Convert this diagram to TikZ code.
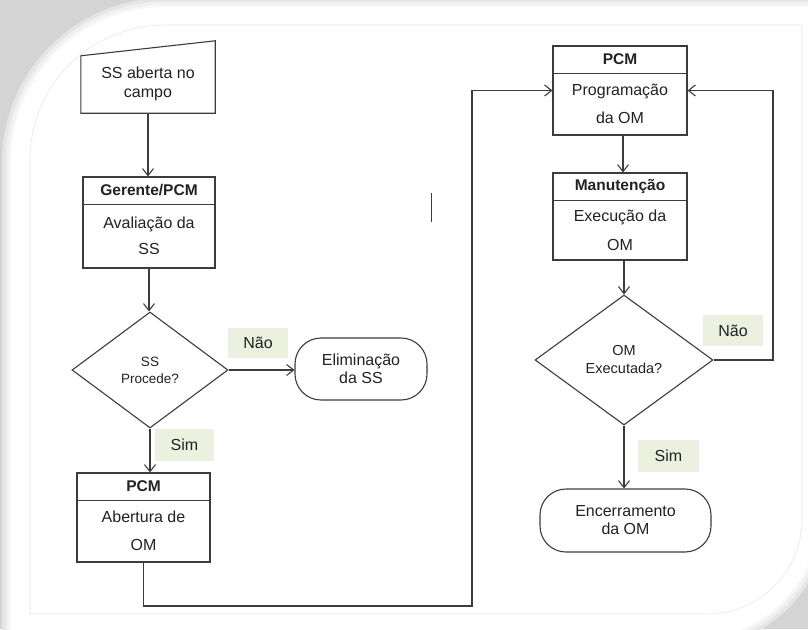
\documentclass[tikz,border=0pt]{standalone}
\usepackage{fontspec}
\setmainfont{Liberation Sans}
\usetikzlibrary{shapes.geometric,arrows.meta}

\definecolor{linec}{HTML}{3C3C3C}
\definecolor{textc}{HTML}{222222}
\definecolor{lblc}{HTML}{EBF0DF}
\definecolor{bgc}{HTML}{D4D4D4}

\tikzset{
  ln/.style={draw=linec, line width=1.1pt},
  flow/.style={draw=linec, line width=1.1pt, -{Straight Barb[length=7pt,width=11pt]}},
  procbox/.style={draw=linec, line width=1.1pt, rectangle, inner sep=0pt},
  decision/.style={draw=linec, line width=1.1pt, diamond, inner sep=0pt, align=center, text=textc},
  terminal/.style={draw=linec, line width=1.1pt, rectangle, rounded corners=26pt, inner sep=0pt},
  answer/.style={fill=lblc, inner sep=0pt, text=textc, font=\fontsize{16}{19}\selectfont},
  head/.style={text=textc, font=\bfseries\fontsize{15.5}{18}\selectfont},
  body/.style={align=center, text=textc, font=\fontsize{16}{#1}\selectfont},
  body/.default=19,
}

\begin{document}
\begin{tikzpicture}[x=1pt,y=-1pt]
\useasboundingbox (0,0) rectangle (808,629);

% sheet with soft shadow
\fill[bgc] (0,0) rectangle (808,629);
\foreach \w/\c in {18/10,11/6,5/3}{
  \draw[black!\c, line width=\w pt] (11,640) -- (11,162)
    arc[start angle=180,end angle=270,radius=155] -- (820,7) -- (820,510)
    arc[start angle=0,end angle=90,radius=130] -- cycle;
}
\fill[white] (11,640) -- (11,162)
  arc[start angle=180,end angle=270,radius=155] -- (820,7) -- (820,510)
  arc[start angle=0,end angle=90,radius=130] -- cycle;
\draw[black!9, line width=0.6pt] (30,614) -- (30,160)
  arc[start angle=180,end angle=270,radius=135] -- (802,25) -- (802,519)
  arc[start angle=0,end angle=90,radius=95] -- cycle;

% left column
\node[minimum width=134pt, minimum height=72pt, inner sep=0pt] (start) at (148,77) {};
\draw[ln] (start.south west) -- (start.south east) -- (start.north east)
  -- ([yshift=-15pt]start.north west) -- cycle;
\node[body] at (148,84) {SS aberta no\\campo};

\node[procbox, minimum width=132pt, minimum height=91pt] (ger) at (149,222.5) {};
\draw[ln] ([yshift=-28pt]ger.north west) -- ([yshift=-28pt]ger.north east);
\node[head] at ([yshift=-14pt]ger.north) {Gerente/PCM};
\node[body=26] at (149,236) {Avaliação da\\SS};

\node[decision, minimum width=156pt, minimum height=116pt,
  font=\fontsize{13.5}{17}\selectfont] (d1) at (150,370) {SS\\Procede?};

\node[terminal, minimum width=132pt, minimum height=62pt, body=18] (elim) at (361,369) {Eliminação\\da SS};

\node[answer, minimum width=60pt, minimum height=30pt] (nao1) at (258,343) {Não};
\node[answer, minimum width=59pt, minimum height=32pt] (sim1) at (184.5,445) {Sim};

\node[procbox, minimum width=133pt, minimum height=89pt] (pcm1) at (143.5,517.5) {};
\draw[ln] ([yshift=-28pt]pcm1.north west) -- ([yshift=-28pt]pcm1.north east);
\node[head] at ([yshift=-14pt]pcm1.north) {PCM};
\node[body=28] at (143.5,531) {Abertura de\\OM};

% right column
\node[procbox, minimum width=134pt, minimum height=89pt] (prog) at (620,90.5) {};
\draw[ln] ([yshift=-28pt]prog.north west) -- ([yshift=-28pt]prog.north east);
\node[head] at ([yshift=-14pt]prog.north) {PCM};
\node[body=28] at (620,104) {Programação\\da OM};

\node[procbox, minimum width=134pt, minimum height=87pt] (man) at (620,216.5) {};
\draw[ln] ([yshift=-28pt]man.north west) -- ([yshift=-28pt]man.north east);
\node[head] at ([yshift=-14pt]man.north) {Manutenção};
\node[body=29] at (620,230.5) {Execução da\\OM};

\node[decision, minimum width=178pt, minimum height=130pt,
  font=\fontsize{14.5}{18}\selectfont] (d2) at (624,360) {OM\\Executada?};

\node[answer, minimum width=60pt, minimum height=31pt] (nao2) at (733,330.5) {Não};
\node[answer, minimum width=61pt, minimum height=32pt] (sim2) at (668.5,456) {Sim};

\node[terminal, minimum width=171pt, minimum height=63pt, body=18] (enc) at (625.5,520.5) {Encerramento\\da OM};

\coordinate (c1) at (472,606);
\coordinate (c2) at (773,360);

% connectors
\draw[flow] (start.south) -- (start.south |- ger.north);
\draw[flow] (ger.south) -- (ger.south |- d1.north);
\draw[flow] (d1.east) -- (d1.east -| elim.west);
\draw[flow] (d1.south) -- (d1.south |- pcm1.north);
\draw[flow] (pcm1.south) |- (c1) |- (prog.west);
\draw[flow] ([xshift=3pt]prog.south) -- ([xshift=3pt]man.north);
\draw[flow] (d2.north |- man.south) -- (d2.north);
\draw[flow] (d2.east) -- (c2) |- (prog.east);
\draw[flow] (d2.south) -- (d2.south |- enc.north);

% stray text cursor mark
\draw[linec, line width=0.9pt] (431,193) -- (431,222);
\end{tikzpicture}
\end{document}
